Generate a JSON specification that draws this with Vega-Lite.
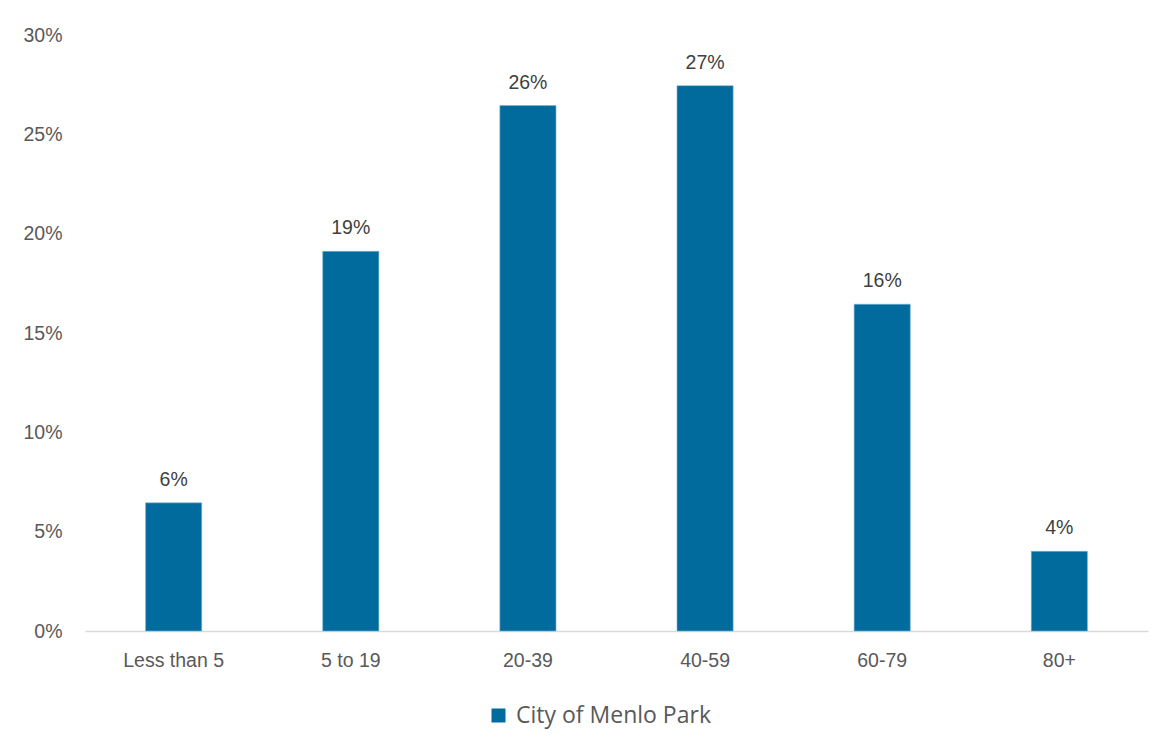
{
  "$schema": "https://vega.github.io/schema/vega-lite/v6.json",
  "width": 1063,
  "height": 596,
  "autosize": {"type": "none"},
  "padding": {"left": 85, "top": 35, "right": 22, "bottom": 119},
  "background": "white",
  "data": {
    "values": [
      {"age": "Less than 5", "share": 0.0645, "series": "City of Menlo Park"},
      {"age": "5 to 19", "share": 0.1911, "series": "City of Menlo Park"},
      {"age": "20-39", "share": 0.2645, "series": "City of Menlo Park"},
      {"age": "40-59", "share": 0.2745, "series": "City of Menlo Park"},
      {"age": "60-79", "share": 0.1645, "series": "City of Menlo Park"},
      {"age": "80+", "share": 0.0401, "series": "City of Menlo Park"}
    ]
  },
  "encoding": {
    "x": {
      "field": "age",
      "type": "nominal",
      "sort": null,
      "scale": {"paddingInner": 0.683, "paddingOuter": 0.342},
      "axis": {
        "title": null,
        "labelAngle": 0,
        "ticks": false,
        "domainColor": "#d9d9d9",
        "domainWidth": 1.5,
        "labelColor": "#595959",
        "labelFont": "Liberation Sans",
        "labelFontSize": 19.5,
        "labelPadding": 20
      }
    },
    "y": {
      "field": "share",
      "type": "quantitative",
      "scale": {"domain": [0, 0.3]},
      "axis": {
        "title": null,
        "format": ".0%",
        "values": [0, 0.05, 0.1, 0.15, 0.2, 0.25, 0.3],
        "labelOverlap": false,
        "labelBound": false,
        "grid": false,
        "domain": false,
        "ticks": false,
        "labelColor": "#595959",
        "labelFont": "Liberation Sans",
        "labelFontSize": 19.5,
        "labelPadding": 23
      }
    }
  },
  "layer": [
    {
      "mark": {"type": "bar", "stroke": "#7fb3d0", "strokeWidth": 0.6},
      "encoding": {
        "color": {
          "field": "series",
          "type": "nominal",
          "scale": {"range": ["#006B9C"]},
          "legend": {
            "title": null,
            "orient": "none",
            "legendX": 402,
            "legendY": 669,
            "direction": "horizontal",
            "symbolType": "square",
            "symbolSize": 196,
            "symbolStrokeWidth": 0,
            "symbolOpacity": 1,
            "labelFont": "Open Sans",
            "labelFontSize": 23,
            "labelColor": "#595959",
            "labelOffset": 6,
            "labelLimit": 500
          }
        }
      }
    },
    {
      "mark": {
        "type": "text",
        "baseline": "alphabetic",
        "dy": -17,
        "font": "Liberation Sans",
        "fontSize": 19.5,
        "color": "#404040"
      },
      "encoding": {
        "text": {"field": "share", "type": "quantitative", "format": ".0%"}
      }
    }
  ],
  "config": {
    "view": {"stroke": null}
  }
}
